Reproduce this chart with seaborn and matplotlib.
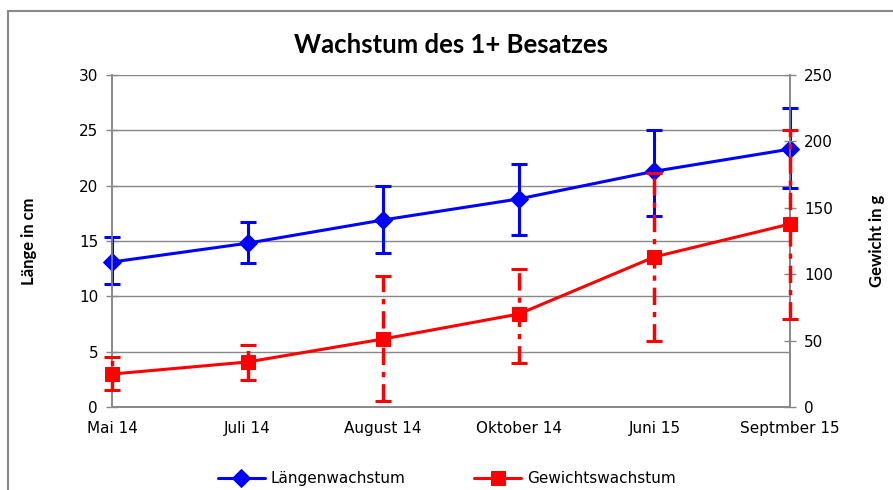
import numpy as np
import pandas as pd
import matplotlib
matplotlib.use('Agg')
import matplotlib.pyplot as plt
import seaborn as sns
from matplotlib.patches import Rectangle

# Data
months = ['Mai 14', 'Juli 14', 'August 14', 'Oktober 14', 'Juni 15', 'Septmber 15']
laenge = [13.1, 14.8, 16.9, 18.8, 21.3, 23.3]
laenge_lo = [11.1, 13.0, 13.9, 15.5, 17.3, 19.8]
laenge_hi = [15.4, 16.7, 20.0, 22.0, 25.0, 27.0]
gewicht = [24.8, 33.9, 51.2, 70.0, 113.0, 137.8]
gewicht_lo = [12.8, 20.3, 4.5, 33.1, 49.7, 66.3]
gewicht_hi = [37.6, 46.7, 98.6, 103.9, 176.0, 208.6]

data = pd.DataFrame({'pos': np.arange(len(months)), 'month': months,
                     'laenge': laenge, 'gewicht': gewicht})

sns.set_style('white')
plt.rcParams['font.family'] = ['DejaVu Sans']
plt.rcParams['text.color'] = 'black'

fig = plt.figure(figsize=(8.93, 4.9), dpi=100)
ax = fig.add_axes([0.1254, 0.1694, 0.7593, 0.6776])
ax2 = ax.twinx()

blue = '#0000FF'
red = '#FF0000'

# Length series
sns.lineplot(data=data, x='pos', y='laenge', ax=ax, color=blue, marker='D',
             markersize=9, markeredgecolor=blue, linewidth=2.2, zorder=4,
             clip_on=False)
yerr_l = [np.array(laenge) - np.array(laenge_lo), np.array(laenge_hi) - np.array(laenge)]
eb1 = ax.errorbar(data['pos'], laenge, yerr=yerr_l, fmt='none', ecolor=blue,
                  elinewidth=2.2, capsize=6, capthick=2.2, zorder=3)

# Weight series
sns.lineplot(data=data, x='pos', y='gewicht', ax=ax2, color=red, marker='s',
             markersize=10, markeredgecolor=red, linewidth=2.2, zorder=4,
             clip_on=False)
yerr_g = [np.array(gewicht) - np.array(gewicht_lo), np.array(gewicht_hi) - np.array(gewicht)]
eb2 = ax2.errorbar(data['pos'], gewicht, yerr=yerr_g, fmt='none', ecolor=red,
                   elinewidth=2.5, capsize=6, capthick=2.2, zorder=3)
for lc in eb2[2]:
    lc.set_linestyle((0, (5, 2, 1.5, 2)))

for eb in (eb1, eb2):
    for art in list(eb[1]) + list(eb[2]):
        art.set_clip_on(False)

# Axes setup
ax.set_xlim(0, len(months) - 1)
ax.set_ylim(0, 30)
ax.set_yticks(range(0, 31, 5))
ax2.set_ylim(0, 250)
ax2.set_yticks(range(0, 251, 50))
ax.set_xticks(data['pos'])
ax.set_xticklabels(months)
ax.yaxis.grid(True, color='#888888', linewidth=1)
ax.set_axisbelow(True)
ax.set_xlabel('')
ax.set_ylabel('Länge in cm', fontsize=12, fontweight='bold', family='Lato',
              labelpad=30, color='black')
ax2.set_ylabel('Gewicht in g', fontsize=12, fontweight='bold', family='Lato',
               labelpad=26, color='black')

for a in (ax, ax2):
    a.spines['top'].set_visible(False)
    for s in ('left', 'right', 'bottom'):
        a.spines[s].set_color('#888888')
        a.spines[s].set_linewidth(1.2)
    a.tick_params(axis='both', labelsize=11, colors='#888888', labelcolor='black',
                  direction='inout', length=8, width=1, pad=6)

ax.set_title('Wachstum des 1+ Besatzes', fontsize=18.5, fontweight='bold',
             family='Lato', pad=16, color='black')

# Legend
handles = ax.get_lines()[:1] + ax2.get_lines()[:1]
leg = fig.legend(handles, ['Längenwachstum', 'Gewichtswachstum'], loc='lower center',
                 bbox_to_anchor=(0.5, -0.02), ncol=2, frameon=False, fontsize=11,
                 columnspacing=4.5, handlelength=3.1, handletextpad=0.35)

# Chart border
fig.patches.append(Rectangle((8 / 893, -0.1), 1.2, 1.1 - 11 / 490,
                             transform=fig.transFigure, fill=False,
                             edgecolor='#888888', linewidth=1.5))

fig.savefig('out.png', dpi=100)
